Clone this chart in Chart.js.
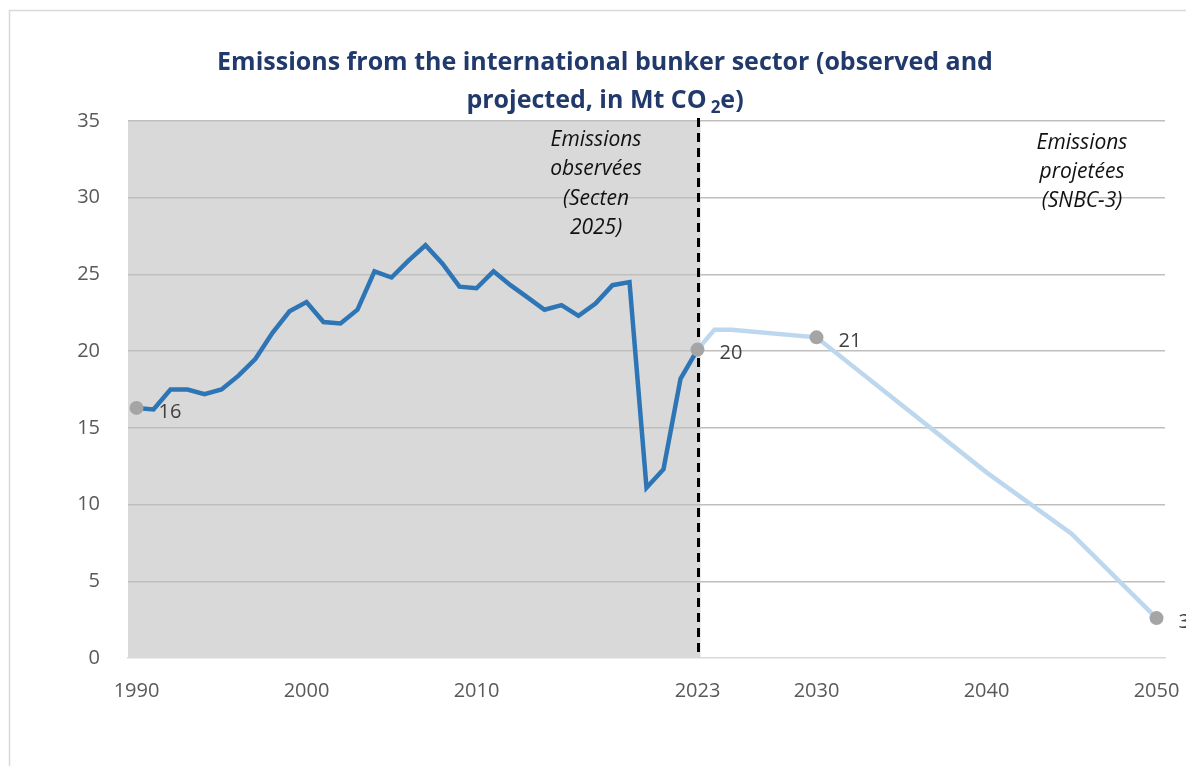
<!DOCTYPE html>
<html>
<head>
<meta charset="utf-8">
<title>International bunker emissions</title>
<script src="https://cdn.jsdelivr.net/npm/chart.js@4"></script>
<style>
  html, body { margin: 0; padding: 0; background: #fff; }
  #wrap { position: relative; width: 1186px; height: 766px; }
</style>
</head>
<body>
<div id="wrap"><canvas id="bunkerChart"></canvas></div>
<script>
// observed emissions (Secten 2025), Mt CO2e
const observedYears = [1990, 1991, 1992, 1993, 1994, 1995, 1996, 1997, 1998, 1999,
                       2000, 2001, 2002, 2003, 2004, 2005, 2006, 2007, 2008, 2009,
                       2010, 2011, 2012, 2013, 2014, 2015, 2016, 2017, 2018, 2019,
                       2020, 2021, 2022, 2023];
const observedValues = [16.3, 16.2, 17.5, 17.5, 17.2, 17.5, 18.4, 19.5, 21.2, 22.6,
                        23.2, 21.9, 21.8, 22.7, 25.2, 24.8, 25.9, 26.9, 25.7, 24.2,
                        24.1, 25.2, 24.3, 23.5, 22.7, 23.0, 22.3, 23.1, 24.3, 24.5,
                        11.1, 12.3, 18.2, 20.1];

// projected emissions (SNBC-3)
const projectedYears = [2023, 2024, 2025, 2030, 2040, 2045, 2050];
const projectedValues = [20.1, 21.4, 21.4, 20.9, 12.1, 8.1, 2.6];

// years that get a grey marker and a value label
const labelledYears = [1990, 2023, 2030, 2050];

const xTicks = [1990, 2000, 2010, 2023, 2030, 2040, 2050];
const yMin = 0, yMax = 35, yStep = 5;
const lastObservedYear = 2023;

const titleLines = ["Emissions from the international bunker sector (observed and",
                    ["projected, in Mt CO", "2", "e)"]];
const noteObserved = ["Emissions", "observées", "(Secten", "2025)"];
const noteProjected = ["Emissions", "projetées", "(SNBC-3)"];

const FONT = "'Open Sans', 'Noto Sans', sans-serif";

function valueFor(year) {
  const i = projectedYears.indexOf(year);
  if (i >= 0) return projectedValues[i];
  return observedValues[observedYears.indexOf(year)];
}

const observedPts = observedYears.map((x, i) => ({ x: x, y: observedValues[i] }));
const projectedPts = projectedYears.map((x, i) => ({ x: x, y: projectedValues[i] }));
const markerPts = labelledYears.map(x => ({ x: x, y: valueFor(x) }));

// frame, grey "observed" band, dashed separator, title and notes
const decorations = {
  id: "decorations",
  beforeDraw(chart) {
    const ctx = chart.ctx, a = chart.chartArea, xs = chart.scales.x;
    ctx.save();
    ctx.strokeStyle = "#d9d9d9";
    ctx.lineWidth = 1.5;
    ctx.strokeRect(9.5, 10.5, 2000, 2000);
    ctx.fillStyle = "#d9d9d9";
    const xEnd = xs.getPixelForValue(lastObservedYear) + 3;
    ctx.fillRect(a.left, a.top, xEnd - a.left, a.bottom - a.top);
    ctx.restore();
  },
  beforeDatasetsDraw(chart) {
    const ctx = chart.ctx, a = chart.chartArea, xs = chart.scales.x;
    const x = Math.round(xs.getPixelForValue(lastObservedYear)) + 0.5;
    ctx.save();
    ctx.strokeStyle = "#000";
    ctx.lineWidth = 3;
    ctx.setLineDash([9, 6]);
    ctx.beginPath();
    ctx.moveTo(x, a.top - 3);
    ctx.lineTo(x, a.bottom);
    ctx.stroke();
    ctx.restore();
  },
  afterDraw(chart) {
    const ctx = chart.ctx;
    ctx.save();
    // title
    const cx = 605;
    const big = "bold 25px " + FONT, small = "bold 17px " + FONT;
    ctx.fillStyle = "#213a6b";
    ctx.textBaseline = "alphabetic";
    ctx.font = big;
    ctx.textAlign = "center";
    ctx.fillText(titleLines[0], cx, 70);
    const parts = titleLines[1];
    ctx.font = big; const w0 = ctx.measureText(parts[0]).width + 4;
    ctx.font = small; const w1 = ctx.measureText(parts[1]).width;
    ctx.font = big; const w2 = ctx.measureText(parts[2]).width;
    const x0 = cx - (w0 + w1 + w2) / 2;
    ctx.textAlign = "left";
    ctx.font = big; ctx.fillText(parts[0], x0, 108);
    ctx.font = small; ctx.fillText(parts[1], x0 + w0, 113);
    ctx.font = big; ctx.fillText(parts[2], x0 + w0 + w1, 108);

    // notes
    ctx.fillStyle = "#111";
    ctx.font = "italic 21px " + FONT;
    ctx.textAlign = "center";
    ctx.textBaseline = "middle";
    noteObserved.forEach((t, i) => ctx.fillText(t, 596, 140 + i * 29.3));
    noteProjected.forEach((t, i) => ctx.fillText(t, 1082, 143 + i * 29));
    ctx.restore();
  }
};

// value labels next to the grey markers
const markerLabels = {
  id: "markerLabels",
  afterDatasetsDraw(chart) {
    const ctx = chart.ctx;
    const meta = chart.getDatasetMeta(2);
    ctx.save();
    ctx.fillStyle = "#404040";
    ctx.font = "20px " + FONT;
    ctx.textAlign = "left";
    ctx.textBaseline = "middle";
    meta.data.forEach((pt, i) => {
      const v = chart.data.datasets[2].data[i].y;
      ctx.fillText(String(Math.round(v)), pt.x + 22, pt.y + 4);
    });
    ctx.restore();
  }
};

const ctx = document.getElementById("bunkerChart").getContext("2d");
const chart = new Chart(ctx, {
  type: "line",
  data: {
    datasets: [
      {
        label: "Observed",
        data: observedPts,
        borderColor: "#2e75b6",
        borderWidth: 4.5,
        pointRadius: 0,
        tension: 0,
        order: 2
      },
      {
        label: "Projected",
        data: projectedPts,
        borderColor: "#bdd7ee",
        borderWidth: 4.5,
        pointRadius: 0,
        tension: 0,
        order: 3
      },
      {
        label: "Markers",
        data: markerPts,
        showLine: false,
        pointRadius: 7,
        pointHoverRadius: 7,
        pointBackgroundColor: "#a5a5a5",
        pointBorderWidth: 0,
        order: 1
      }
    ]
  },
  options: {
    responsive: true,
    maintainAspectRatio: false,
    animation: false,
    events: [],
    layout: { padding: { left: 0, right: 21, top: 121, bottom: 0 } },
    plugins: {
      legend: { display: false },
      title: { display: false },
      tooltip: { enabled: false }
    },
    scales: {
      x: {
        type: "linear",
        min: 1989.5,
        max: 2050.5,
        afterBuildTicks: scale => { scale.ticks = xTicks.map(v => ({ value: v })); },
        afterFit: scale => {
          scale.height = 108;
          scale.paddingLeft = 0;
          scale.paddingRight = 0;
        },
        grid: { display: false, drawTicks: false },
        border: { display: true, color: "#d9d9d9", width: 1.5 },
        ticks: {
          autoSkip: false,
          maxRotation: 0,
          padding: 21,
          color: "#595959",
          font: { family: FONT, size: 20 },
          callback: v => String(v)
        }
      },
      y: {
        min: yMin,
        max: yMax,
        afterFit: scale => { scale.width = 128; },
        grid: {
          drawTicks: false,
          color: c => (c.tick.value === 0 ? "rgba(0,0,0,0)" : "#bfbfbf"),
          lineWidth: 1.5
        },
        border: { display: false },
        ticks: {
          stepSize: yStep,
          padding: 28,
          color: "#595959",
          font: { family: FONT, size: 20 }
        }
      }
    }
  },
  plugins: [decorations, markerLabels]
});
</script>
</body>
</html>
